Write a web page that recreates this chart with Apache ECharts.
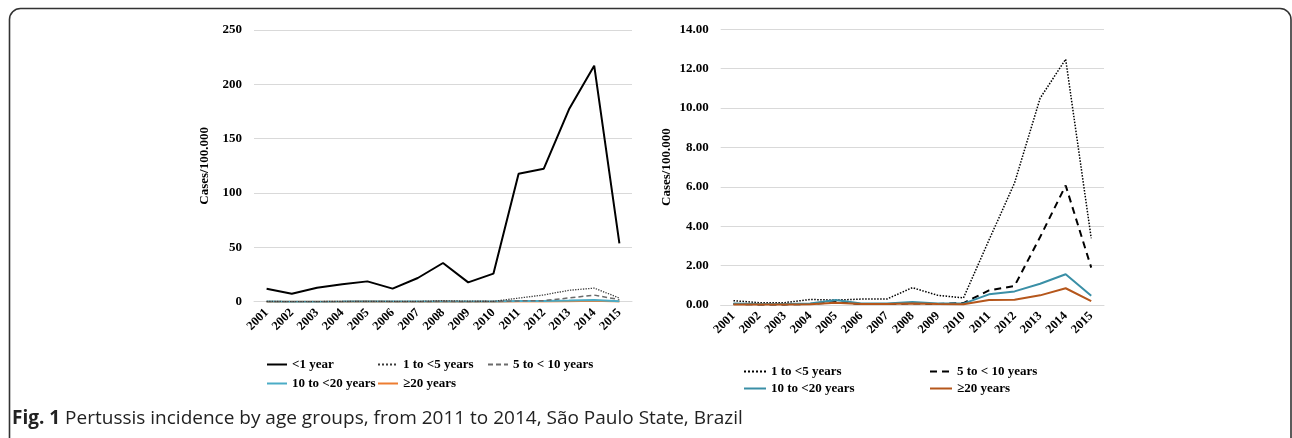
<!DOCTYPE html>
<html><head><meta charset="utf-8">
<script src="https://cdn.jsdelivr.net/npm/echarts@6/dist/echarts.min.js"></script>
<style>html,body{margin:0;padding:0;background:#fff}#c{width:1292px;height:438px}</style>
</head><body><div id="c"></div>
<script>
var years = ['2001','2002','2003','2004','2005','2006','2007','2008','2009','2010','2011','2012','2013','2014','2015'];
var under1 = [12.0, 7.4, 12.9, 16.0, 18.7, 12.0, 21.8, 35.6, 17.8, 25.8, 117.8, 122.4, 177.0, 217.2, 53.7];
var from1to5 = [0.22, 0.12, 0.12, 0.28, 0.25, 0.30, 0.30, 0.88, 0.49, 0.36, 3.30, 6.20, 10.50, 12.48, 3.39];
var from5to10 = [0.05, 0.03, 0.03, 0.05, 0.15, 0.05, 0.05, 0.08, 0.05, 0.10, 0.74, 0.97, 3.45, 6.07, 1.90];
var from10to20 = [0.08, 0.05, 0.05, 0.08, 0.25, 0.08, 0.08, 0.15, 0.08, 0.07, 0.54, 0.69, 1.08, 1.56, 0.47];
var over20 = [0.03, 0.02, 0.03, 0.04, 0.12, 0.05, 0.05, 0.07, 0.05, 0.04, 0.25, 0.27, 0.49, 0.85, 0.20];
var leftTicks = {min: 0, max: 250, interval: 50};
var rightTicks = {min: 0, max: 14, interval: 2};
var names = ['<1 year', '1 to <5 years', '5 to < 10 years', '10 to <20 years', '\u226520 years'];
var yName = 'Cases/100.000';
var caption = 'Pertussis incidence by age groups, from 2011 to 2014, S\u00e3o Paulo State, Brazil';

var serif = '"Liberation Serif","Times New Roman",serif';
var chart = echarts.init(document.getElementById('c'), null, {renderer: 'canvas'});

function xAxis(gi) {
  return {
    type: 'category', gridIndex: gi, data: years, boundaryGap: true,
    axisLine: {lineStyle: {color: '#d9d9d9', width: 1}},
    axisTick: {show: false},
    axisLabel: {rotate: 45, margin: 9, fontFamily: serif, fontWeight: 'bold', fontSize: 12.5, color: '#000'}
  };
}
function yAxis(gi, t, fmt, gap) {
  return {
    type: 'value', gridIndex: gi, min: t.min, max: t.max, interval: t.interval,
    name: yName, nameLocation: 'middle', nameGap: gap, nameRotate: 90,
    nameTextStyle: {fontFamily: serif, fontWeight: 'bold', fontSize: 13, color: '#000'},
    axisLine: {show: false}, axisTick: {show: false},
    splitLine: {lineStyle: {color: '#d9d9d9', width: 1}},
    axisLabel: {margin: 12, fontFamily: serif, fontWeight: 'bold', fontSize: 13, color: '#000', formatter: fmt}
  };
}
function line(name, data, gi, color, type, width) {
  return {
    type: 'line', name: name, data: data, xAxisIndex: gi, yAxisIndex: gi,
    symbol: 'none', smooth: false, silent: true, animation: false,
    lineStyle: {color: color, type: type, width: width}, itemStyle: {color: color}
  };
}
var legStyle = {fontFamily: serif, fontWeight: 'bold', fontSize: 13, color: '#000'};
function leg(name, left, top, w) {
  return {
    show: true, orient: 'horizontal', left: left, top: top, itemWidth: w, itemHeight: 12, selectedMode: false, padding: 0,
    itemStyle: {opacity: 0},
    data: [name],
    textStyle: legStyle
  };
}
var L = {c1: '#000000', c2: '#3a3a3a', c3: '#6b6b6b', c4: '#4bacc6', c5: '#ed7d31'};
var R = {c2: '#000000', c3: '#000000', c4: '#3a8fa6', c5: '#b5561b'};

var option = {
  backgroundColor: '#ffffff',
  animation: false,
  grid: [
    {left: 254, top: 30, width: 378, height: 271.7},
    {left: 720.7, top: 29.3, width: 383.3, height: 275.7}
  ],
  xAxis: [xAxis(0), xAxis(1)],
  yAxis: [
    yAxis(0, leftTicks, function (v) { return String(v); }, 43),
    yAxis(1, rightTicks, function (v) { return v.toFixed(2); }, 48)
  ],
  legend: [
    leg(names[0], 266, 358, 20),
    leg(names[1], 377, 358, 20),
    leg(names[2], 487, 358, 20),
    leg(names[3], 266, 377, 20),
    leg(names[4], 377, 377, 20),
    leg(names[1] + ' ', 743, 365, 22),
    leg(names[2] + ' ', 929, 365, 22),
    leg(names[3] + ' ', 743, 382, 22),
    leg(names[4] + ' ', 929, 382, 22)
  ],
  series: [
    line(names[4], over20, 0, L.c5, 'solid', 2),
    line(names[3], from10to20, 0, L.c4, 'solid', 2),
    line(names[2], from5to10, 0, L.c3, [5, 3], 1.5),
    line(names[1], from1to5, 0, L.c2, 'dotted', 1.3),
    line(names[0], under1, 0, L.c1, 'solid', 2),
    line(names[1] + ' ', from1to5, 1, R.c2, 'dotted', 1.5),
    line(names[2] + ' ', from5to10, 1, R.c3, [7, 5], 2),
    line(names[3] + ' ', from10to20, 1, R.c4, 'solid', 2),
    line(names[4] + ' ', over20, 1, R.c5, 'solid', 2)
  ],
  graphic: [
    {type: 'rect', shape: {x: 9.5, y: 8.5, width: 1281.5, height: 460, r: 11}, silent: true,
     style: {fill: 'none', stroke: '#333333', lineWidth: 1.6}},
    {type: 'text', left: 12, top: 409, silent: true,
     style: {text: '{b|Fig. 1} ' + caption, rich: {b: {fontFamily: '"Open Sans",sans-serif', fontWeight: 'bold', fontSize: 19, fill: '#222'}},
       fontFamily: '"Open Sans",sans-serif', fontSize: 19, fill: '#222'}}
  ]
};
chart.setOption(option);
</script></body></html>
